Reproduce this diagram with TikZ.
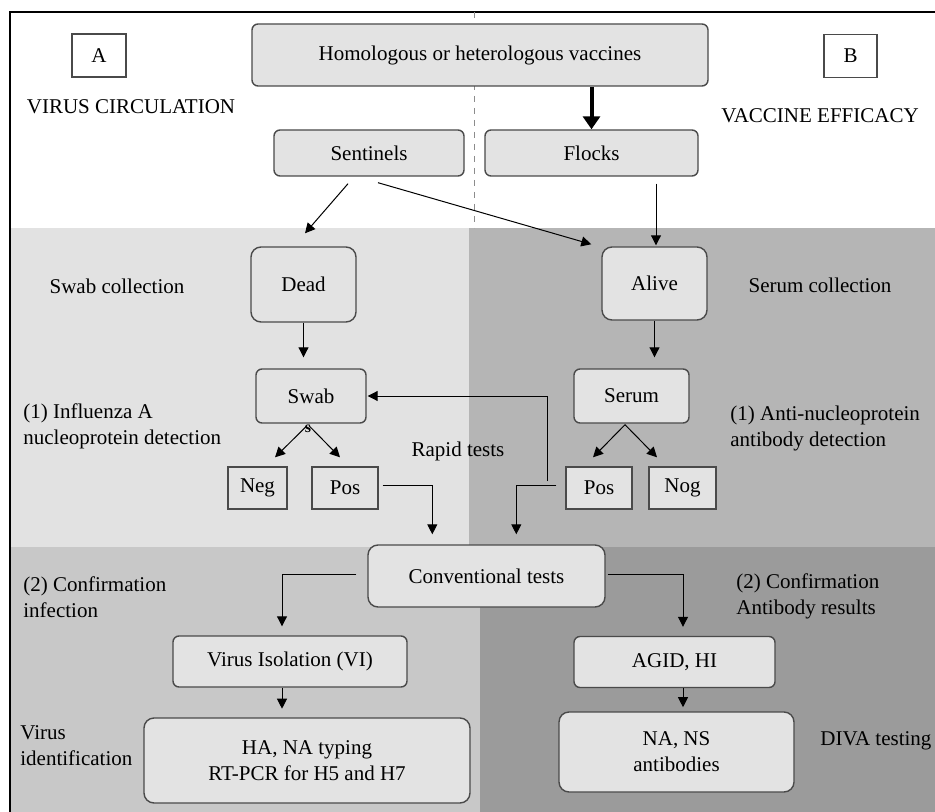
\documentclass[tikz,border=0pt]{standalone}
\usepackage{fontspec}
\setmainfont{Liberation Serif}
\usetikzlibrary{calc,arrows.meta}
\definecolor{pLM}{HTML}{E2E2E2}
\definecolor{pRM}{HTML}{B5B5B5}
\definecolor{pLB}{HTML}{C8C8C8}
\definecolor{pRB}{HTML}{9B9B9B}
\definecolor{boxg}{HTML}{E3E3E3}
\definecolor{edge}{HTML}{4A4A4A}
\tikzset{
  rbox/.style={draw=edge, fill=boxg, rounded corners=3pt, line width=0.7pt, inner sep=0pt, align=center},
  bigr/.style={rbox, rounded corners=5pt},
  sbox/.style={draw=edge, fill=boxg, line width=0.7pt, inner sep=0pt, align=center},
  wbox/.style={draw=edge, fill=white, line width=0.7pt, inner sep=0pt, align=center},
  lbl/.style={inner sep=0pt, align=left, anchor=west},
  clbl/.style={inner sep=0pt, align=center},
  arr/.style={line width=0.5pt, -{Triangle[length=5pt,width=5pt]}},
  fatarr/.style={line width=2pt, -{Triangle[length=6.5pt,width=8.5pt]}}
}
\begin{document}
\begin{tikzpicture}[x=0.5pt,y=-0.5pt,font=\fontsize{10.5}{13}\selectfont]
\useasboundingbox (0,0) rectangle (935,812);
% panels
\fill[white] (0,0) rectangle (935,812);
\fill[pLM] (10,228) rectangle (469,547);
\fill[pRM] (469,228) rectangle (935,547);
\fill[pLB] (10,547) rectangle (480,812);
\fill[pRB] (480,547) rectangle (935,812);
\draw[line width=0.8pt] (10,812) -- (10,12) -- (935,12);
\draw[black!45, dashed, line width=0.5pt] (474,12) -- (474,228);

% nodes
\node[wbox, minimum width=27pt, minimum height=21.5pt] (A) at (99,55.5) {A};
\node[wbox, minimum width=26.5pt, minimum height=21.5pt] (B) at (850.5,56) {B};
\node[clbl] (vc) at (131,107) {VIRUS CIRCULATION};
\node[clbl] (ve) at (820,116) {VACCINE EFFICACY};
\node[rbox, minimum width=228pt, minimum height=31pt] (hom) at (480,55) {Homologous or heterologous vaccines};
\node[rbox, minimum width=95pt, minimum height=23pt] (sen) at (369,153) {Sentinels};
\node[rbox, minimum width=106.5pt, minimum height=23pt] (fl) at (591.5,153) {Flocks};
\node[bigr, minimum width=52.5pt, minimum height=37.5pt] (dead) at (303.5,284.5) {Dead};
\node[bigr, minimum width=52.5pt, minimum height=36.5pt] (alive) at (654.5,283.5) {Alive};
\node[rbox, minimum width=55pt, minimum height=27pt] (swab) at (311,396) {Swab};
\node[rbox, minimum width=57.5pt, minimum height=27pt] (serum) at (631.5,396) {Serum};
\node[sbox, minimum width=29.5pt, minimum height=21pt] (neg) at (257.5,488) {Neg};
\node[sbox, minimum width=33pt, minimum height=21pt] (posL) at (345,488) {Pos};
\node[sbox, minimum width=33pt, minimum height=21pt] (posR) at (599,488) {Pos};
\node[sbox, minimum width=33.5pt, minimum height=21pt] (nog) at (682.5,488) {Nog};
\node[bigr, minimum width=118.5pt, minimum height=31pt] (conv) at (486.5,576) {Conventional tests};
\node[rbox, minimum width=117pt, minimum height=25.5pt] (vi) at (290,661.5) {Virus Isolation (VI)};
\node[rbox, minimum width=100.5pt, minimum height=25.5pt] (agid) at (674.5,662) {AGID, HI};
\node[bigr, minimum width=163pt, minimum height=42.5pt] (ha) at (307,760.5) {HA, NA typing\\RT-PCR for H5 and H7};
\node[bigr, minimum width=117.5pt, minimum height=40pt] (nans) at (676.5,752) {NA, NS\\antibodies};

% side labels
\node[clbl] (swc) at (117,286) {Swab collection};
\node[lbl] (inf) at (23,426) {(1) Influenza A\\nucleoprotein detection};
\node[clbl] (rap) at (458,451) {Rapid tests};
\node[clbl] (sec) at (820,285) {Serum collection};
\node[lbl] (anp) at (730,428) {(1) Anti-nucleoprotein\\antibody detection};
\node[lbl] (cfi) at (23,597) {(2) Confirmation\\infection};
\node[lbl] (cfa) at (736,596) {(2) Confirmation\\Antibody results};
\node[lbl] (vid) at (20,746) {Virus\\identification};
\node[lbl] (diva) at (820,741) {DIVA testing};

% connectors
\draw[fatarr] (hom.south -| fl.north) -- (fl.north);
\draw[arr] ($(sen.south)+(-21,7)$) -- ($(dead.north)+(1.5,-13)$);
\draw[arr] ($(sen.south)+(9,6)$) -- ($(alive.north west)+(-10,-2)$);
\draw[arr] ($(alive.north |- fl.south)+(1.5,7)$) -- ($(alive.north)+(1.5,-1)$);
\draw[arr] (dead.south) -- ($(dead.south |- swab.north)+(0,-11)$);
\draw[arr] (alive.south) -- ($(alive.south |- serum.north)+(0,-11)$);
\draw[arr] ($(swab.south)+(-4,2)$) -- ($(neg.north)+(17.5,-9)$);
\draw[arr] ($(swab.south)+(-2,2)$) -- ($(posL.north)+(-5,-9)$);
\draw[arr] ($(serum.south)+(-6.5,1)$) -- ($(posR.north)+(-6,-9)$);
\draw[arr] ($(serum.south)+(-6.5,1)$) -- ($(nog.north)+(-25.5,-9)$);
\coordinate (c1) at ($(conv.north west)+(65,-10)$);
\coordinate (c2) at ($(conv.north west)+(149,-10)$);
\draw[arr] ($(posL.east)+(4,-3)$) -| (c1);
\draw[arr] ($(posR.west)+(-9,-3)$) -| (c2);
\coordinate (fb) at ($(posR.west)+(-18,-7)$);
\draw[arr] (fb) |- ($(swab.east)+(1,0)$);
\draw[arr] ($(conv.west)+(-11,-2)$) -| ($(vi.north)+(-8,-9)$);
\draw[arr] ($(conv.east)+(2,-2)$) -| ($(agid.north)+(8.5,-9)$);
\draw[arr] ($(vi.south)+(-8,0)$) -- ($(vi.south)+(-8,21)$);
\draw[arr] ($(agid.south)+(8.5,0)$) -- ($(agid.south)+(8.5,19)$);
\node[clbl, font=\bfseries\fontsize{8}{9}\selectfont] (s) at (308,429) {s};
\end{tikzpicture}
\end{document}
